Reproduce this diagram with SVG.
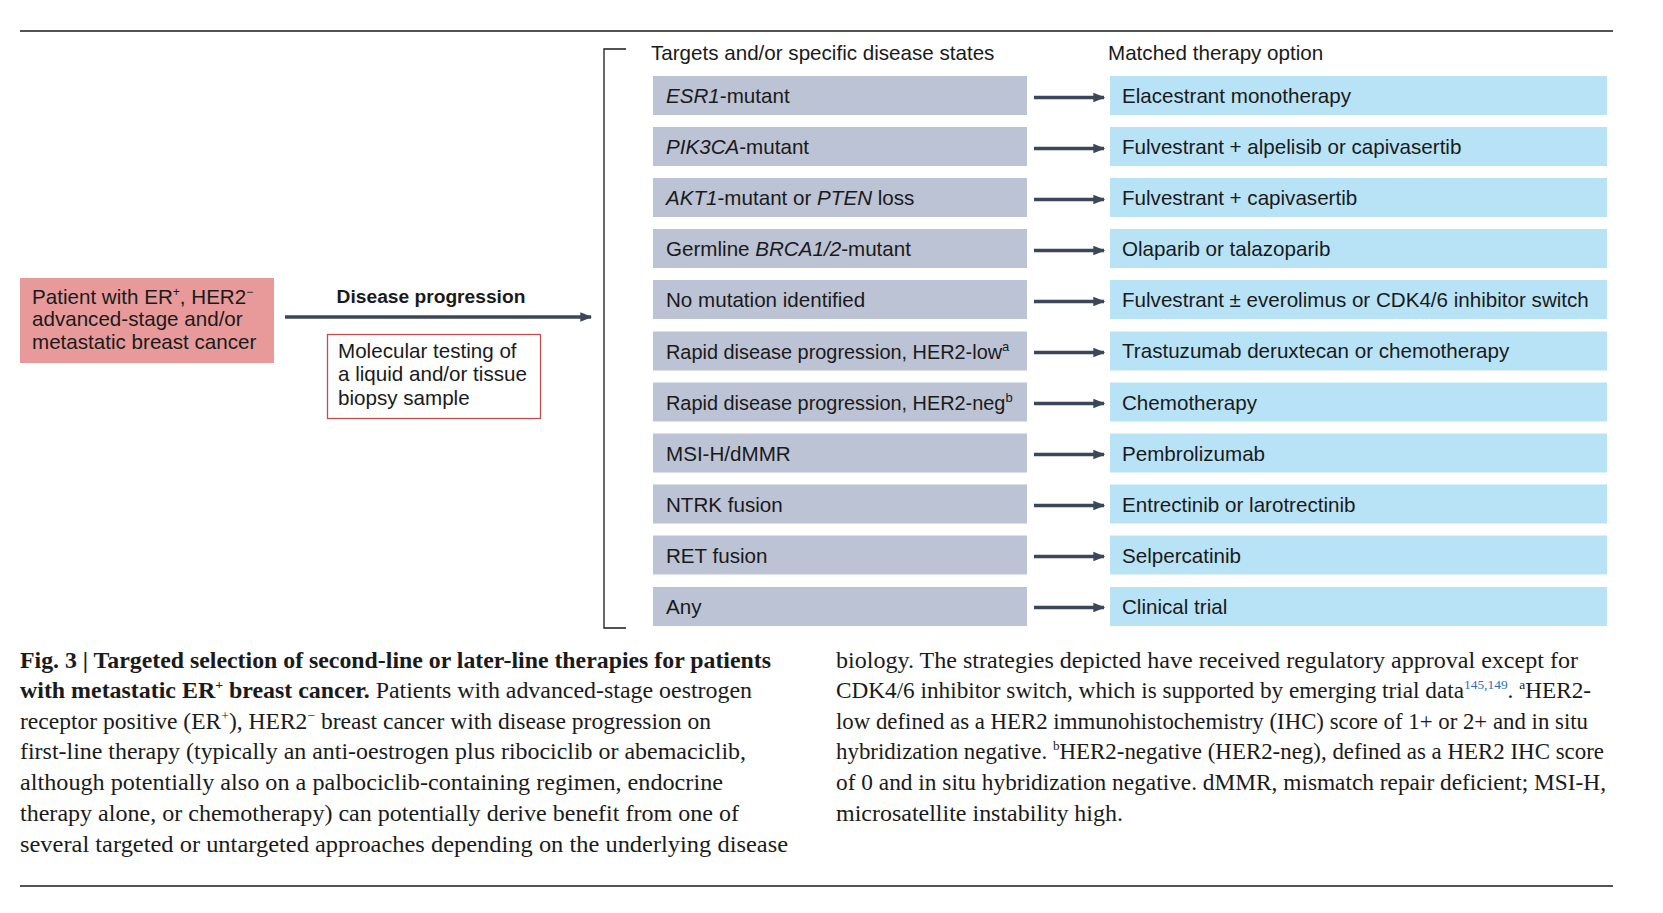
<svg xmlns="http://www.w3.org/2000/svg" width="1663" height="913" viewBox="0 0 1663 913">
<style>
.t{font-family:"Liberation Sans",Arial,sans-serif;font-size:20.6px;fill:#1a1a1a}
.b{font-weight:bold}
.i{font-style:italic}
.gray{fill:#bcc3d5}
.blue{fill:#b8e3f7}
.con{stroke:#3b4759;stroke-width:3.5;fill:none}
.cap{font-family:"Liberation Serif","Times New Roman",serif;font-size:22.5px;fill:#1a1a1a}
.rule{stroke:#1a1a1a;stroke-width:1.3}
</style>
<defs>
<marker id="ah" viewBox="0 0 10 10" refX="9" refY="5" markerWidth="3.6" markerHeight="3.4" orient="auto" markerUnits="strokeWidth">
<path d="M0,1 L10,5 L0,9 z" fill="#3b4759"/>
</marker>
</defs>
<rect width="1663" height="913" fill="#fff"/>
<line class="rule" x1="20" y1="31" x2="1613" y2="31"/>
<line class="rule" x1="20" y1="886" x2="1613" y2="886"/>

<g id="patient">
<rect x="20" y="278" width="254" height="85" fill="#e89a9b"/>
<text class="t" x="32" y="304">Patient with ER<tspan font-size="12" dy="-8">+</tspan><tspan dy="8">, HER2</tspan><tspan font-size="12" dy="-8">−</tspan></text>
<text class="t" x="32" y="326">advanced-stage and/or</text>
<text class="t" x="32" y="349">metastatic breast cancer</text>
</g>

<g id="progression">
<text class="t b" x="431" y="303" text-anchor="middle" style="font-size:19.2px">Disease progression</text>
</g>

<g id="testing">
<rect x="327.5" y="334.5" width="213" height="84" fill="#fff" stroke="#c0504d" stroke-width="1.3"/>
<text class="t" x="338" y="358">Molecular testing of</text>
<text class="t" x="338" y="381">a liquid and/or tissue</text>
<text class="t" x="338" y="405">biopsy sample</text>
</g>

<g id="bracket">
<polyline points="626,49 604,49 604,628 626,628" fill="none" stroke="#1a1a1a" stroke-width="1.3"/>
</g>

<g id="headers">
<text class="t" x="651" y="60">Targets and/or specific disease states</text>
<text class="t" x="1108" y="60">Matched therapy option</text>
</g>

<g id="targets">
<rect class="gray" x="653" y="76" width="374" height="39"/>
<rect class="gray" x="653" y="127" width="374" height="39"/>
<rect class="gray" x="653" y="178" width="374" height="39"/>
<rect class="gray" x="653" y="229" width="374" height="39"/>
<rect class="gray" x="653" y="280" width="374" height="39"/>
<rect class="gray" x="653" y="331.5" width="374" height="39"/>
<rect class="gray" x="653" y="382.5" width="374" height="39"/>
<rect class="gray" x="653" y="433.5" width="374" height="39"/>
<rect class="gray" x="653" y="484.5" width="374" height="39"/>
<rect class="gray" x="653" y="535.5" width="374" height="39"/>
<rect class="gray" x="653" y="587" width="374" height="39"/>
<text class="t" x="666" y="103"><tspan class="i">ESR1</tspan>-mutant</text>
<text class="t" x="666" y="154"><tspan class="i">PIK3CA</tspan>-mutant</text>
<text class="t" x="666" y="205"><tspan class="i">AKT1</tspan>-mutant or <tspan class="i">PTEN</tspan> loss</text>
<text class="t" x="666" y="256">Germline <tspan class="i">BRCA1/2</tspan>-mutant</text>
<text class="t" x="666" y="307">No mutation identified</text>
<text class="t" x="666" y="359" style="font-size:19.9px">Rapid disease progression, HER2-low<tspan font-size="13" dy="-8">a</tspan></text>
<text class="t" x="666" y="410" style="font-size:19.9px">Rapid disease progression, HER2-neg<tspan font-size="13" dy="-8">b</tspan></text>
<text class="t" x="666" y="461">MSI-H/dMMR</text>
<text class="t" x="666" y="512">NTRK fusion</text>
<text class="t" x="666" y="563">RET fusion</text>
<text class="t" x="666" y="614">Any</text>
</g>

<g id="therapies">
<rect class="blue" x="1110" y="76" width="497" height="39"/>
<rect class="blue" x="1110" y="127" width="497" height="39"/>
<rect class="blue" x="1110" y="178" width="497" height="39"/>
<rect class="blue" x="1110" y="229" width="497" height="39"/>
<rect class="blue" x="1110" y="280" width="497" height="39"/>
<rect class="blue" x="1110" y="331.5" width="497" height="39"/>
<rect class="blue" x="1110" y="382.5" width="497" height="39"/>
<rect class="blue" x="1110" y="433.5" width="497" height="39"/>
<rect class="blue" x="1110" y="484.5" width="497" height="39"/>
<rect class="blue" x="1110" y="535.5" width="497" height="39"/>
<rect class="blue" x="1110" y="587" width="497" height="39"/>
<text class="t" x="1122" y="103">Elacestrant monotherapy</text>
<text class="t" x="1122" y="154">Fulvestrant + alpelisib or capivasertib</text>
<text class="t" x="1122" y="205">Fulvestrant + capivasertib</text>
<text class="t" x="1122" y="256">Olaparib or talazoparib</text>
<text class="t" x="1122" y="307">Fulvestrant ± everolimus or CDK4/6 inhibitor switch</text>
<text class="t" x="1122" y="358">Trastuzumab deruxtecan or chemotherapy</text>
<text class="t" x="1122" y="410">Chemotherapy</text>
<text class="t" x="1122" y="461">Pembrolizumab</text>
<text class="t" x="1122" y="512">Entrectinib or larotrectinib</text>
<text class="t" x="1122" y="563">Selpercatinib</text>
<text class="t" x="1122" y="614">Clinical trial</text>
</g>

<g id="connectors">
<line class="con" x1="285" y1="317" x2="591" y2="317" marker-end="url(#ah)"/>
<line class="con" x1="1034" y1="97.5" x2="1104" y2="97.5" marker-end="url(#ah)"/>
<line class="con" x1="1034" y1="148.5" x2="1104" y2="148.5" marker-end="url(#ah)"/>
<line class="con" x1="1034" y1="199.5" x2="1104" y2="199.5" marker-end="url(#ah)"/>
<line class="con" x1="1034" y1="250.5" x2="1104" y2="250.5" marker-end="url(#ah)"/>
<line class="con" x1="1034" y1="301.5" x2="1104" y2="301.5" marker-end="url(#ah)"/>
<line class="con" x1="1034" y1="352.5" x2="1104" y2="352.5" marker-end="url(#ah)"/>
<line class="con" x1="1034" y1="403.5" x2="1104" y2="403.5" marker-end="url(#ah)"/>
<line class="con" x1="1034" y1="454.5" x2="1104" y2="454.5" marker-end="url(#ah)"/>
<line class="con" x1="1034" y1="505.5" x2="1104" y2="505.5" marker-end="url(#ah)"/>
<line class="con" x1="1034" y1="556.5" x2="1104" y2="556.5" marker-end="url(#ah)"/>
<line class="con" x1="1034" y1="607.5" x2="1104" y2="607.5" marker-end="url(#ah)"/>
</g>

<g id="caption">
<text class="cap" x="20" y="668" textLength="751" lengthAdjust="spacingAndGlyphs"><tspan class="b">Fig. 3 | Targeted selection of second-line or later-line therapies for patients</tspan></text>
<text class="cap" x="20" y="698" textLength="732" lengthAdjust="spacingAndGlyphs"><tspan class="b">with metastatic ER</tspan><tspan class="b" font-size="13" dy="-9">+</tspan><tspan class="b" dy="9"> breast cancer.</tspan> Patients with advanced-stage oestrogen</text>
<text class="cap" x="20" y="729" textLength="691" lengthAdjust="spacingAndGlyphs">receptor positive (ER<tspan font-size="13" dy="-9">+</tspan><tspan dy="9">), HER2</tspan><tspan font-size="13" dy="-9">−</tspan><tspan dy="9"> breast cancer with disease progression on</tspan></text>
<text class="cap" x="20" y="759" textLength="726" lengthAdjust="spacingAndGlyphs">first-line therapy (typically an anti-oestrogen plus ribociclib or abemaciclib,</text>
<text class="cap" x="20" y="790" textLength="703" lengthAdjust="spacingAndGlyphs">although potentially also on a palbociclib-containing regimen, endocrine</text>
<text class="cap" x="20" y="821" textLength="719" lengthAdjust="spacingAndGlyphs">therapy alone, or chemotherapy) can potentially derive benefit from one of</text>
<text class="cap" x="20" y="852" textLength="768" lengthAdjust="spacingAndGlyphs">several targeted or untargeted approaches depending on the underlying disease</text>

<text class="cap" x="836" y="668" textLength="742" lengthAdjust="spacingAndGlyphs">biology. The strategies depicted have received regulatory approval except for</text>
<text class="cap" x="836" y="698" textLength="755" lengthAdjust="spacingAndGlyphs">CDK4/6 inhibitor switch, which is supported by emerging trial data<tspan font-size="13" dy="-9" fill="#2a6fb5">145,149</tspan><tspan dy="9">. </tspan><tspan font-size="13" dy="-9">a</tspan><tspan dy="9">HER2-</tspan></text>
<text class="cap" x="836" y="729" textLength="752" lengthAdjust="spacingAndGlyphs">low defined as a HER2 immunohistochemistry (IHC) score of 1+ or 2+ and in situ</text>
<text class="cap" x="836" y="759" textLength="768" lengthAdjust="spacingAndGlyphs">hybridization negative. <tspan font-size="13" dy="-9">b</tspan><tspan dy="9">HER2-negative (HER2-neg), defined as a HER2 IHC score</tspan></text>
<text class="cap" x="836" y="790" textLength="770" lengthAdjust="spacingAndGlyphs">of 0 and in situ hybridization negative. dMMR, mismatch repair deficient; MSI-H,</text>
<text class="cap" x="836" y="821" textLength="287" lengthAdjust="spacingAndGlyphs">microsatellite instability high.</text>
</g>
</svg>
